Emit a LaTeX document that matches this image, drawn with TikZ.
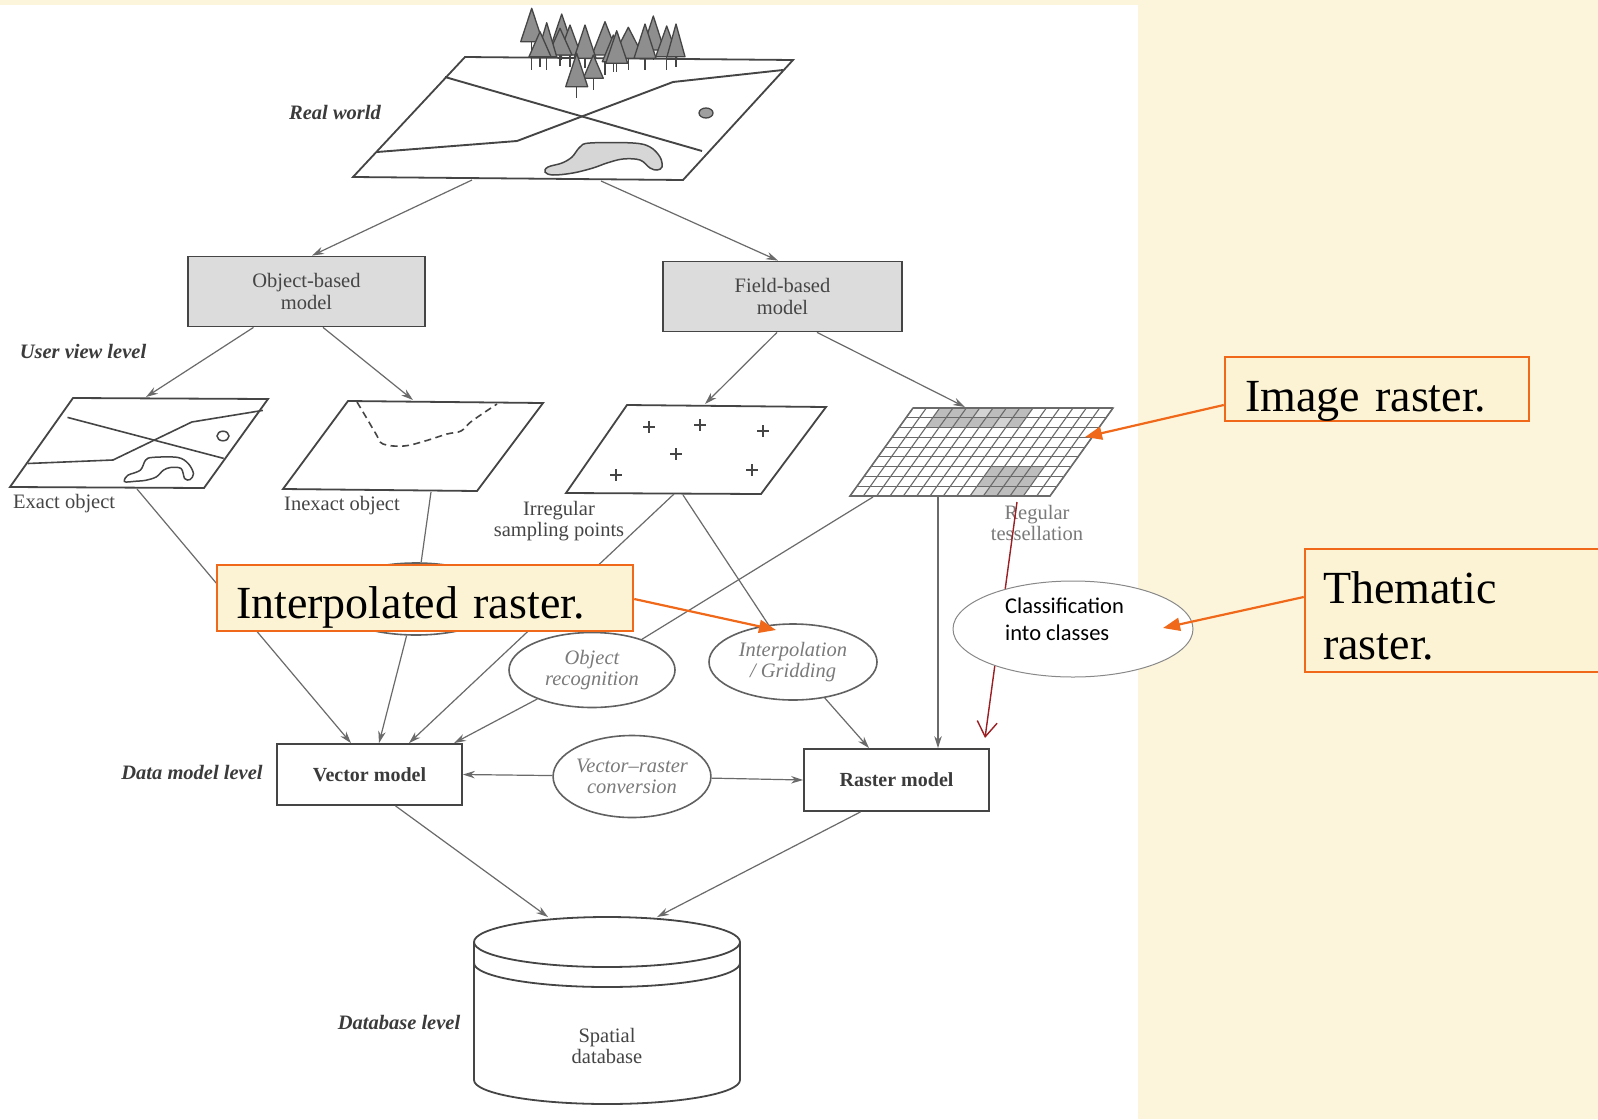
\documentclass[tikz,border=0pt]{standalone}
\usepackage{fontspec}
\setmainfont{Liberation Serif}
\newfontfamily\calib{Carlito}
\usetikzlibrary{arrows.meta,shapes.geometric,calc}

\definecolor{cream}{HTML}{FCF5DC}
\definecolor{calloutfill}{HTML}{FCF3D4}
\definecolor{callorange}{HTML}{F0691A}
\definecolor{ink}{HTML}{454545}
\definecolor{lineg}{HTML}{6A6A6A}
\definecolor{softink}{HTML}{7A7A7A}
\definecolor{boxgray}{HTML}{DCDCDC}
\definecolor{treegray}{HTML}{8E8E8E}
\definecolor{lakegray}{HTML}{D6D6D6}
\definecolor{cellgray}{HTML}{BDBDBD}
\definecolor{celllight}{HTML}{D4D4D4}
\definecolor{classred}{HTML}{9A1E22}

% large callout lettering with a tight word space
\protected\def\calloutfont{\fontsize{46}{56}\selectfont\spaceskip=0.17em plus 0.05em\relax}

\begin{document}
\begin{tikzpicture}[x=1pt,y=-1pt,
  booktext/.style={font=\fontsize{20.5}{21.5}\selectfont, text=ink, inner sep=0pt, align=center},
  levellabel/.style={font=\fontsize{20.5}{21.5}\selectfont\bfseries\itshape, text=ink!85!black, inner sep=0pt},
  modelbox/.style={draw=ink, line width=1.8pt, fill=boxgray, font=\fontsize{20.5}{21.5}\selectfont,
    text=ink, align=center, inner sep=0pt},
  databox/.style={draw=ink, line width=1.8pt, fill=white, font=\fontsize{20}{21.5}\selectfont\bfseries,
    text=ink!85!black, inner sep=0pt},
  process/.style={ellipse, draw=ink!85, line width=1.6pt, fill=white,
    font=\fontsize{20.5}{21.5}\selectfont\itshape, text=softink, align=center, inner sep=0pt},
  sheet/.style={draw=ink, line width=1.8pt, fill=white, line join=miter},
  feature/.style={draw=ink, line width=1.9pt},
  plusmark/.style={draw=ink, line width=1.5pt},
  gridline/.style={draw=lineg, line width=1.1pt},
  tree/.style={draw=ink, line width=1.3pt, fill=treegray, line join=round},
  trunk/.style={draw=ink, line width=1.5pt},
  conn/.style={draw=lineg, line width=1.2pt, -{Stealth[length=12pt,width=7.5pt]}},
  plainconn/.style={draw=lineg, line width=1.2pt},
  callout/.style={draw=callorange, line width=2.5pt, fill=calloutfill,
    font=\calloutfont, text=black, inner ysep=0pt},
  callouttext/.style={font=\calloutfont, text=black, inner sep=0pt, align=left},
  pointer/.style={draw=callorange, line width=2.2pt, -{Triangle[length=17pt,width=13pt]}}
]

% page: cream slide with a white scanned page on the left
\fill[cream] (0,0) rectangle (1598,1119);
\fill[white] (0,5) rectangle (1138,1119);
\useasboundingbox (0,0) rectangle (1598,1119);

% ---------------- real world sheet ----------------
\draw[sheet] (353,177) -- (465,57) -- (793,60) -- (683,180) -- cycle;
\draw[feature] (445,77) -- (702,151);
\draw[feature] (377,152) -- (517,141) -- (673,82) -- (783,70);
\draw[ink, line width=1.3pt, fill=treegray!85] (706,113) ellipse [x radius=7pt, y radius=5pt];
\draw[ink, line width=1.5pt, fill=lakegray] plot[smooth cycle, tension=0.6] coordinates {
  (545,172) (548,167) (562,163) (572,157) (580,147) (590,143) (633,143) (650,147)
  (660,157) (662,167) (657,170) (650,168) (640,160) (623,159) (607,163) (593,168)
  (573,173) (553,175)};
% forest
\foreach \ax/\ay/\by/\hw/\tb in {
  531.7/8.3/41.7/11/70, 561.7/14/46.7/11/60, 653.3/16/50/11/60,
  570/25/55/11/66.7, 605/21.7/55/13/75, 560/28.3/55/12/66,
  546.7/22.7/56.7/10/70, 540/31.7/56.7/11/66.7, 666.7/26/56.7/11/70,
  676/24/56.7/9/66.7, 585/25/58.3/11/68, 628.3/27.3/58.3/16/70,
  645/24/58.3/11/70, 613.3/35/61.7/11/72, 616.7/30.7/63.3/11/71.7,
  593.3/55/78.3/10/90, 576.7/53.3/86.7/11/98.3} {
  \draw[trunk] (\ax,\by) -- (\ax,\tb);
  \draw[tree] (\ax-\hw,\by) -- (\ax,\ay) -- (\ax+\hw,\by) -- cycle;
}
\node[levellabel] (rwlbl) at (335,112) {Real world};

% ---------------- conceptual models ----------------
\node[modelbox, minimum width=237pt, minimum height=70pt] (obj) at (306.5,291.5) {Object-based\\model};
\node[modelbox, minimum width=239pt, minimum height=70pt] (field) at (782.5,296.5) {Field-based\\model};
\node[levellabel] (uvlbl) at (83,351) {User view level};

% ---------------- user views ----------------
% exact object
\draw[sheet] (10,487) -- (73,398) -- (268,399) -- (204,488) -- cycle;
\draw[feature, line width=1.6pt] (67.5,417.4) -- (223.7,458.4);
\draw[feature, line width=1.6pt] (27.8,463.5) -- (113,460) -- (191.8,422) -- (262.8,410.4);
\draw[ink, line width=1.5pt] (223,436) ellipse [x radius=6pt, y radius=4.8pt];
\draw[ink, line width=1.5pt] plot[smooth cycle, tension=0.55] coordinates {
  (124.3,480.3) (127.9,475.2) (140.3,470.2) (145.6,460.1) (152.7,457.4) (177.6,457.4)
  (188.2,463.5) (193.5,473.6) (190,479.6) (184.7,478.6) (181.1,468.5) (170.5,467.5)
  (163.4,470.2) (156.3,476.9) (145.6,480.3) (135,481.3) (126,482)};
\node[booktext, anchor=west] (exlbl) at (13,504) {Exact object};

% inexact object
\draw[sheet] (283,489) -- (348,401) -- (543,403) -- (477,491) -- cycle;
\draw[ink, line width=1.6pt, dash pattern=on 7pt off 4.5pt] plot[smooth, tension=0.6] coordinates {
  (357,402) (366,417) (376,434) (383,444) (404,446) (425,441) (447,434) (461,431) (472,421) (497,404)};
\node[booktext] (inlbl) at (342,506) {Inexact object};

% irregular sampling points
\draw[sheet] (566,493) -- (627,405) -- (826,407) -- (761,494) -- cycle;
\foreach \px/\py in {649/427, 700/425, 763/431, 676/454, 616/475, 752/470}
  \draw[plusmark] (\px-6,\py) -- (\px+6,\py) (\px,\py-6) -- (\px,\py+6);
\node[booktext] (irlbl) at (559,521) {Irregular\\sampling points};

% regular tessellation
\def\cw{13.3333}
\def\rh{9.7778}
\begin{scope}[shift={(850,496)}, x=1pt, y=1pt, xslant=0.716]
  \fill[white] (0,0) rectangle (200,88);
  \foreach \c/\r in {2/0,3/0,4/0,6/0,7/0,8/0,2/1,3/1,4/1,5/1,6/1,8/1,
                     9/6,10/6,11/6,12/6,9/7,10/7,11/7,12/7,10/8,11/8,12/8}
    \fill[cellgray] ({\c*\cw},{88-(\r+1)*\rh}) rectangle ++(\cw,\rh);
  \foreach \c/\r in {5/0,7/1,9/8}
    \fill[celllight] ({\c*\cw},{88-(\r+1)*\rh}) rectangle ++(\cw,\rh);
  \foreach \i in {0,...,15} \draw[gridline] ({\i*\cw},0) -- ({\i*\cw},88);
  \foreach \j in {0,...,9} \draw[gridline] (0,{\j*\rh}) -- (200,{\j*\rh});
  \draw[draw=lineg, line width=1.5pt] (0,0) rectangle (200,88);
\end{scope}
\node[booktext, text=softink] (relbl) at (1037,523) {Regular\\tessellation};

% ---------------- data models ----------------
\node[process, minimum width=180pt, minimum height=72pt] (hid) at (416,599) {};
\node[process, minimum width=166pt, minimum height=75pt] (objrec) at (592,670) {Object\\recognition};
\node[process, minimum width=168pt, minimum height=76pt] (interp) at (793,662) {Interpolation\\/ Gridding};
\node[databox, minimum width=185pt, minimum height=61pt] (vec) at (369.5,774.5) {Vector model};
\node[databox, minimum width=185pt, minimum height=62pt] (rast) at (896.5,780) {Raster model};
\node[process, minimum width=145pt, minimum height=82pt] (vrc) at (632,776.5) {Vector--raster\\conversion};
\node[levellabel] (dmlbl) at (192,772) {Data model level};

% ---------------- database ----------------
\draw[ink, line width=1.8pt, fill=white] (474,942) -- (474,1080)
  arc[start angle=180, end angle=360, x radius=133pt, y radius=24pt] -- (740,942);
\draw[ink, line width=1.8pt] (607,942) ellipse [x radius=133pt, y radius=25pt];
\draw[ink, line width=1.8pt] (474,963) arc[start angle=180, end angle=360, x radius=133pt, y radius=24pt];
\node[booktext] (dbtxt) at (607,1046) {Spatial\\database};
\node[levellabel] (dblbl) at (399,1022) {Database level};

% ---------------- connector end points on the sheets ----------------
\coordinate (rwL) at (472,180);
\coordinate (rwR) at (601,181);
\coordinate (exTop) at (146,397);
\coordinate (inTop) at (413,400);
\coordinate (irTop) at (705,404);
\coordinate (grTop) at (965,407);
\coordinate (exBot) at (137,489);
\coordinate (inBot) at (431,492);
\coordinate (irBotA) at (674,494);
\coordinate (irBotB) at (683,495);
\coordinate (grBotA) at (873,497);
\coordinate (grBotB) at (938,497);
\coordinate (dbL) at (548,917);
\coordinate (dbR) at (657,917);

% ---------------- connectors ----------------
\draw[conn] (rwL) -- ([xshift=5.5pt]obj.north);
\draw[conn] (rwR) -- ([xshift=-4.5pt]field.north);
\draw[conn] ([xshift=-53pt]obj.south) -- (exTop);
\draw[conn] ([xshift=16.5pt]obj.south) -- (inTop);
\draw[conn] ([xshift=-5.5pt]field.south) -- (irTop);
\draw[conn] ([xshift=34.5pt]field.south) -- (grTop);
\draw[conn] (exBot) -- ([xshift=-18.5pt]vec.north);
\draw[plainconn] (inBot) -- (hid);
\draw[conn] (hid) -- ([xshift=9.5pt]vec.north);
\draw[conn] (irBotA) -- ([xshift=39.5pt]vec.north);
\draw[plainconn] (irBotB) -- (interp);
\draw[plainconn] (grBotA) -- (objrec);
\draw[conn] (objrec) -- ([xshift=84.5pt]vec.north);
\draw[conn] (interp) -- ([xshift=-27.5pt]rast.north);
\draw[conn] (grBotB) -- ([xshift=41.5pt]rast.north);
\draw[conn] (vrc) -- (vec.east);
\draw[conn] (vrc) -- (rast.west);
\draw[conn] ([xshift=26pt]vec.south) -- (dbL);
\draw[conn] ([xshift=-36pt]rast.south) -- (dbR);

% ---------------- classification step ----------------
\coordinate (redStart) at (1017,502);
\coordinate (redTip) at (985,738);
\draw[classred, line width=1.4pt, -{Straight Barb[length=15pt,width=20pt]}] (redStart) -- (redTip);
\node[ellipse, draw=lineg!80, line width=1pt, fill=white, minimum width=240pt, minimum height=96pt] (cls) at (1073,629) {};
\node[font=\calib\fontsize{22.5}{27}\selectfont, text=black, inner sep=0pt, align=left, anchor=base west]
  (clstxt) at (1005,640) {Classification\\into classes};

% ---------------- callouts ----------------
\node[callout, inner xsep=19pt, text width=378pt, align=left, text height=53pt, text depth=13pt]
  (interpbox) at (425,598) {Interpolated raster.};
\node[callout, inner xsep=20pt, text width=264pt, align=left, text height=54pt, text depth=10pt]
  (imgbox) at (1377,389) {Image raster.};
\node[callout, minimum width=315pt, minimum height=123pt] (thembox) at (1462.5,610.5) {};
\node[callouttext, anchor=base west] (themtxt) at (1323,659) {Thematic\\raster.};

\coordinate (interpTip) at (776,630);
\coordinate (imgTip) at (1085,437);
\coordinate (themTip) at (1163,628);
\draw[pointer] ([yshift=-1pt]interpbox.east) -- (interpTip);
\draw[pointer] ([yshift=-16pt]imgbox.west) -- (imgTip);
\draw[pointer] ([yshift=13.5pt]thembox.west) -- (themTip);

\end{tikzpicture}
\end{document}
